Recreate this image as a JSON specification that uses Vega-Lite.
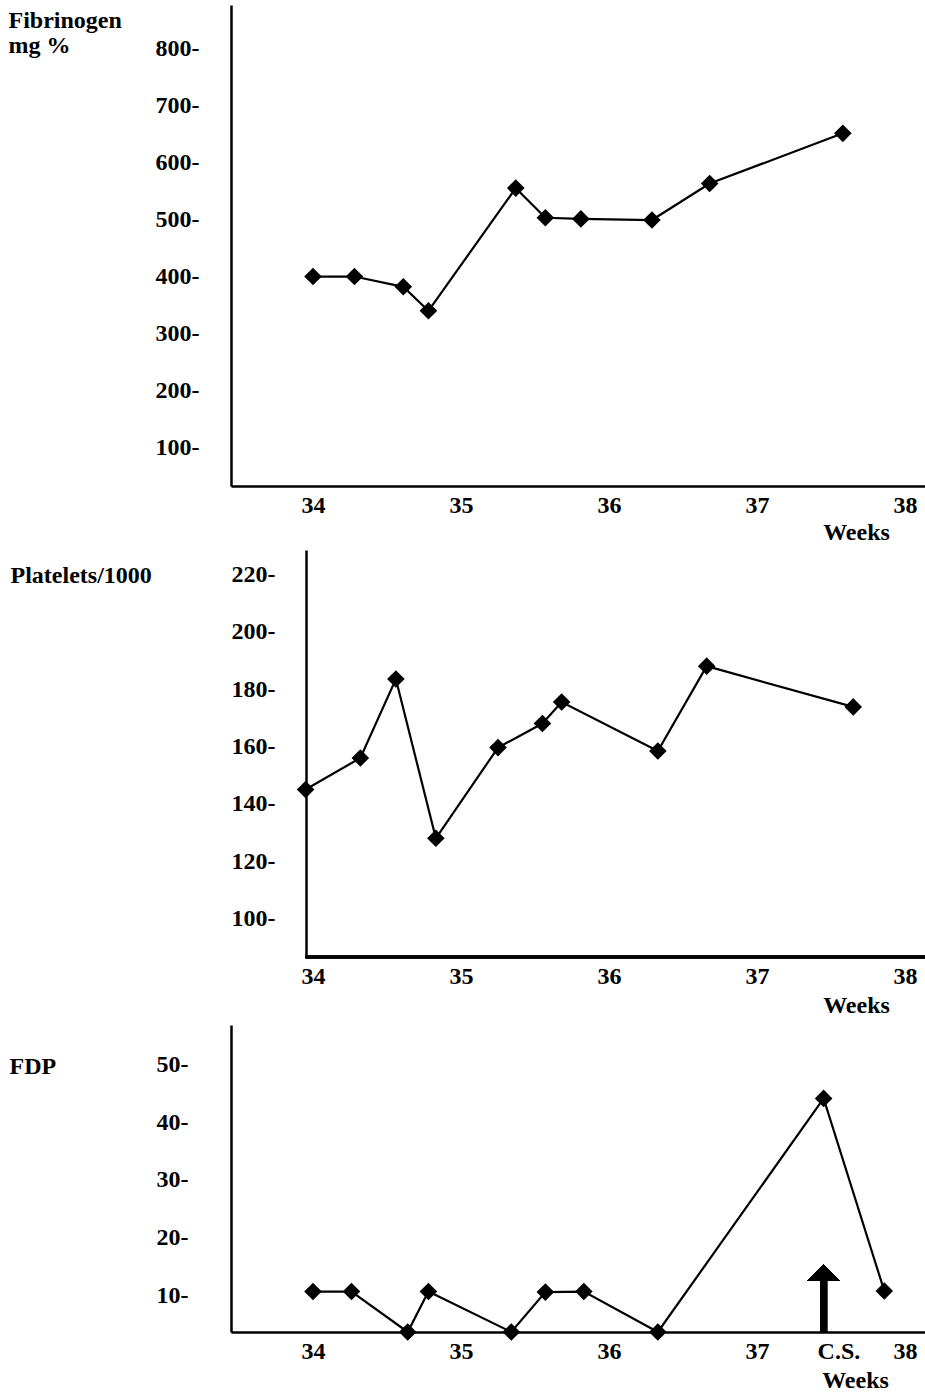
{
  "$schema": "https://vega.github.io/schema/vega-lite/v6.json",
  "background": "white",
  "padding": {"left": 8, "top": 5, "right": 0, "bottom": 0},
  "datasets": {
    "fib": [
      {"week": 34.00, "value": 400},
      {"week": 34.28, "value": 400},
      {"week": 34.61, "value": 382},
      {"week": 34.78, "value": 340},
      {"week": 35.37, "value": 555},
      {"week": 35.57, "value": 503},
      {"week": 35.81, "value": 501},
      {"week": 36.29, "value": 499},
      {"week": 36.68, "value": 563},
      {"week": 37.58, "value": 651}
    ],
    "plt": [
      {"week": 33.95, "value": 145},
      {"week": 34.32, "value": 156},
      {"week": 34.56, "value": 183.5},
      {"week": 34.83, "value": 128},
      {"week": 35.25, "value": 159.6},
      {"week": 35.55, "value": 168},
      {"week": 35.68, "value": 175.5},
      {"week": 36.33, "value": 158.4},
      {"week": 36.66, "value": 188},
      {"week": 37.65, "value": 173.8}
    ],
    "fdp": [
      {"week": 34.00, "value": 10.7},
      {"week": 34.26, "value": 10.7},
      {"week": 34.64, "value": 3.7},
      {"week": 34.78, "value": 10.7},
      {"week": 35.34, "value": 3.7},
      {"week": 35.57, "value": 10.6},
      {"week": 35.83, "value": 10.7},
      {"week": 36.33, "value": 3.7},
      {"week": 37.45, "value": 44.1},
      {"week": 37.86, "value": 10.8}
    ]
  },
  "config": {
    "view": {"stroke": null},
    "axis": {
      "labelFont": "Liberation Serif",
      "labelFontWeight": "bold",
      "labelFontSize": 24,
      "labelColor": "black",
      "titleFont": "Liberation Serif",
      "titleFontWeight": "bold",
      "titleFontSize": 24,
      "titleColor": "black",
      "ticks": false,
      "tickSize": 0,
      "grid": false,
      "domainColor": "black",
      "domainWidth": 2.5,
      "labelFlush": false,
      "labelOverlap": false,
      "labelBound": false
    }
  },
  "bounds": "flush",
  "spacing": 64,
  "vconcat": [
    {
      "width": 694,
      "height": 481,
      "data": {"name": "fib"},
      "encoding": {
        "x": {
          "field": "week", "type": "quantitative",
          "scale": {"domain": [33.446, 38.135], "nice": false, "zero": false},
          "axis": {
            "values": [34, 35, 36, 37, 38], "format": "d", "labelOverlap": false,
            "labelPadding": 7, "labelBaseline": "top",
            "title": "Weeks", "titleX": 625, "titleY": 53, "titleAlign": "center", "titleBaseline": "alphabetic", "titleAngle": 0
          }
        },
        "y": {
          "field": "value", "type": "quantitative",
          "scale": {"domain": [32.9, 875.9], "nice": false, "zero": false},
          "axis": {
            "values": [100, 200, 300, 400, 500, 600, 700, 800], "labelOverlap": false,
            "labelExpr": "datum.label + '-'",
            "labelPadding": 32, "labelBaseline": "middle",
            "title": ["Fibrinogen", "mg %"], "titleAngle": 0, "titleX": -223, "titleY": 22,
            "titleAlign": "left", "titleBaseline": "alphabetic", "titleLineHeight": 25
          }
        }
      },
      "layer": [
        {"mark": {"type": "line", "color": "black", "strokeWidth": 2.2}},
        {"mark": {"type": "point", "shape": "diamond", "size": 310, "filled": true, "color": "black", "opacity": 1}}
      ]
    },
    {
      "bounds": "flush",
      "spacing": 68,
      "vconcat": [
        {
          "width": 694,
          "height": 407,
          "data": {"name": "plt"},
          "encoding": {
            "x": {
              "field": "week", "type": "quantitative",
              "scale": {"domain": [33.446, 38.135], "nice": false, "zero": false},
              "axis": {
                "values": [34, 35, 36, 37, 38], "format": "d", "domain": false, "labelOverlap": false,
                "labelPadding": 7, "labelBaseline": "top",
                "title": "Weeks", "titleX": 625, "titleY": 55, "titleAlign": "center", "titleBaseline": "alphabetic", "titleAngle": 0
              }
            },
            "y": {
              "field": "value", "type": "quantitative",
              "scale": {"domain": [86.6, 228.5], "nice": false, "zero": false},
              "axis": {
                "offset": -75, "labelOverlap": false,
                "values": [100, 120, 140, 160, 180, 200, 220],
                "labelExpr": "datum.label + '-'",
                "labelPadding": 31, "labelBaseline": "middle",
                "title": "Platelets/1000", "titleAngle": 0, "titleX": -296, "titleY": 32,
                "titleAlign": "left", "titleBaseline": "alphabetic"
              }
            }
          },
          "layer": [
            {
              "mark": {"type": "rule", "color": "black", "strokeWidth": 2.5},
              "encoding": {"x": {"datum": 33.95}, "x2": {"datum": 38.135}, "y": {"datum": 86.6}}
            },
            {"mark": {"type": "line", "color": "black", "strokeWidth": 2.2}},
            {"mark": {"type": "point", "shape": "diamond", "size": 310, "filled": true, "color": "black", "opacity": 1}}
          ]
        },
        {
          "width": 694,
          "height": 307,
          "data": {"name": "fdp"},
          "encoding": {
            "x": {
              "field": "week", "type": "quantitative",
              "scale": {"domain": [33.446, 38.135], "nice": false, "zero": false},
              "axis": {
                "values": [34, 35, 36, 37, 37.55, 38], "labelOverlap": false,
                "labelExpr": "datum.value > 37.5 && datum.value < 37.6 ? 'C.S.' : format(datum.value, 'd')",
                "labelPadding": 7, "labelBaseline": "top",
                "title": "Weeks", "titleX": 624, "titleY": 55, "titleAlign": "center", "titleBaseline": "alphabetic", "titleAngle": 0
              }
            },
            "y": {
              "field": "value", "type": "quantitative",
              "scale": {"domain": [3.7, 56.8], "nice": false, "zero": false},
              "axis": {
                "values": [10, 20, 30, 40, 50], "labelOverlap": false,
                "labelExpr": "datum.label + '-'",
                "labelPadding": 43, "labelBaseline": "middle",
                "title": "FDP", "titleAngle": 0, "titleX": -222, "titleY": 48,
                "titleAlign": "left", "titleBaseline": "alphabetic"
              }
            }
          },
          "layer": [
            {"mark": {"type": "line", "color": "black", "strokeWidth": 2.2}},
            {"mark": {"type": "point", "shape": "diamond", "size": 310, "filled": true, "color": "black", "opacity": 1}},
            {
              "mark": {"type": "rule", "color": "black", "strokeWidth": 7},
              "encoding": {"x": {"datum": 37.45}, "y": {"datum": 3.7}, "y2": {"datum": 12.5}}
            },
            {
              "mark": {"type": "point", "shape": "M-1,0L0,-1L1,0Z", "size": 1089, "filled": true, "color": "black", "opacity": 1},
              "encoding": {"x": {"datum": 37.45}, "y": {"datum": 12.5}}
            }
          ]
        }
      ]
    }
  ]
}
